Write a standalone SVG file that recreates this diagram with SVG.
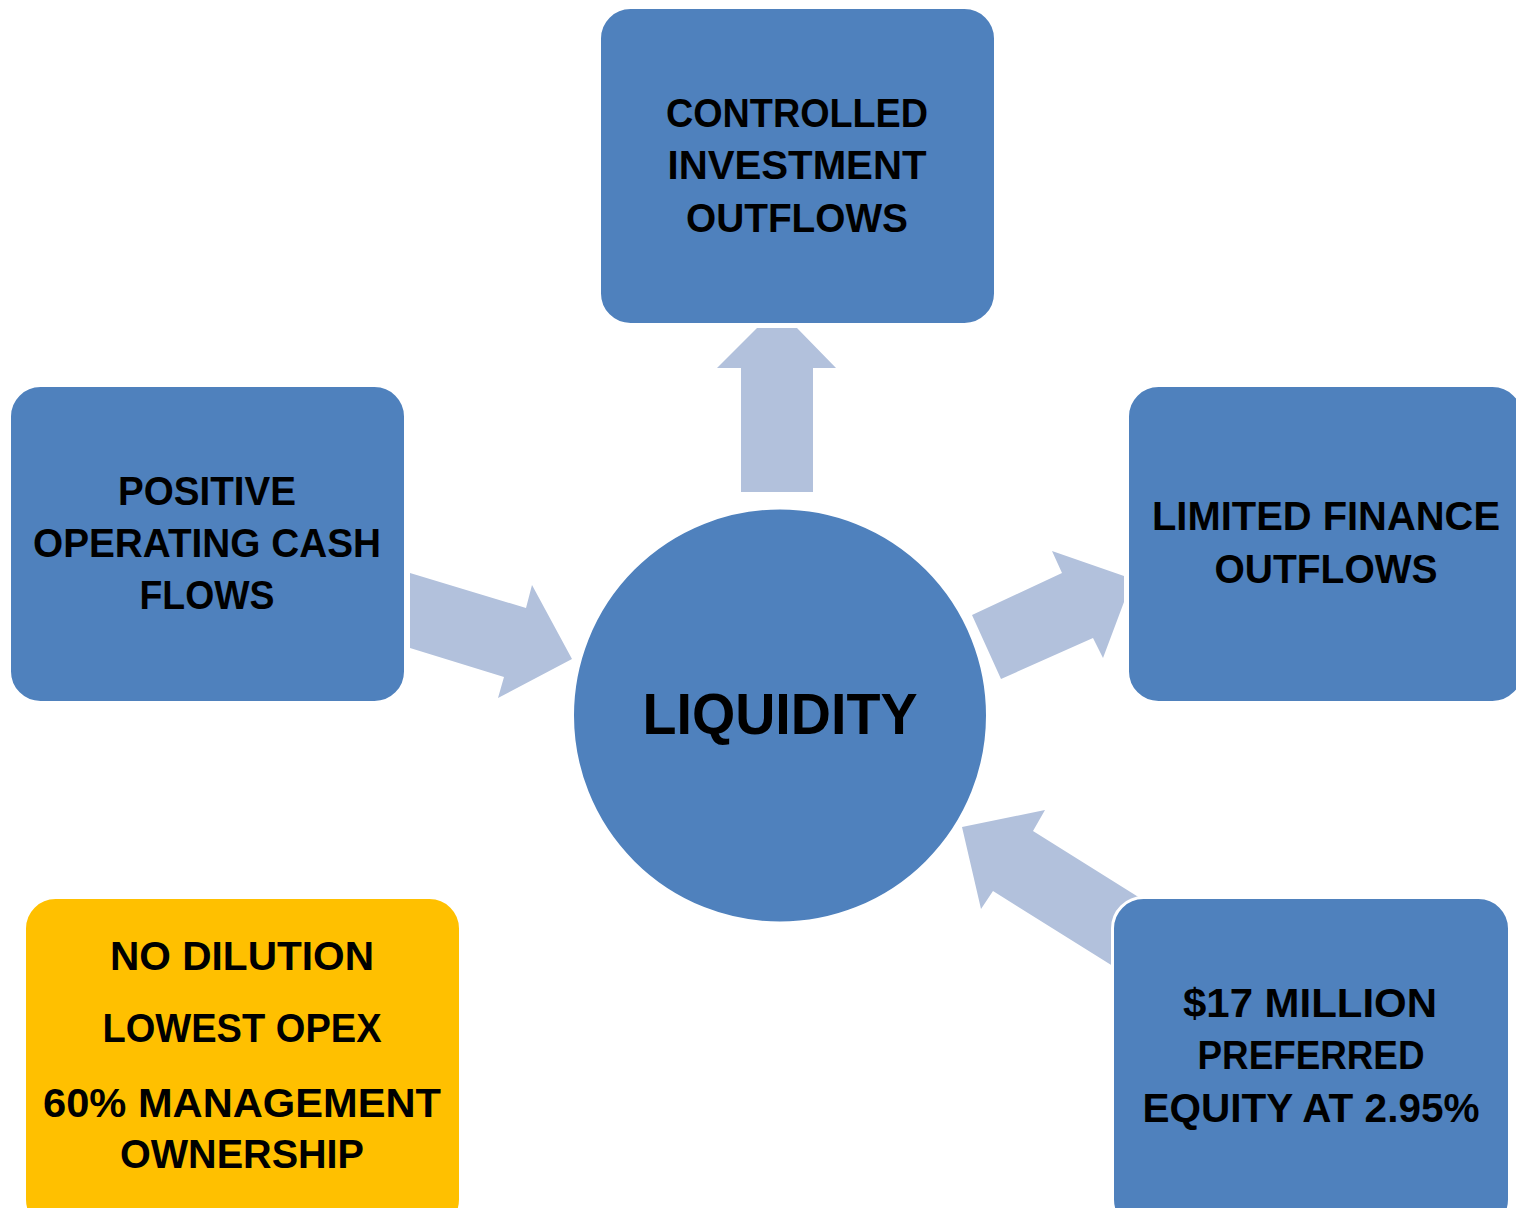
<svg xmlns="http://www.w3.org/2000/svg" width="1516" height="1208" viewBox="0 0 1516 1208">
<style>
.box{fill:#4F81BD;stroke:#FFFFFF;stroke-width:3}
.ybox{fill:#FFC000;stroke:#FFFFFF;stroke-width:3}
.arr{fill:#B2C1DC}
text{font-family:"Liberation Sans",Arial,sans-serif;font-weight:bold;font-size:40px;fill:#000000;text-anchor:middle}
.big{font-size:57px}
</style>
<rect width="1516" height="1208" fill="#FFFFFF"/>
<g id="connectors">
<polygon class="arr" points="741,492 741,368 717,368 757,328 797,328 836,368 813,368 813,492"/>
<polygon class="arr" points="410,573 526,608 532,585 572,659 498,698 504,677 410,648"/>
<polygon class="arr" points="1001,679 972,615 1062,573 1052,551 1124,576 1124,602 1103,658 1093,638"/>
<polygon class="arr" points="962,827 1045,810 1033,831 1140,898 1116,968 993,891 981,909"/>
</g>
<g id="node-top">
<rect class="box" x="599.5" y="7.5" width="396" height="317" rx="31"/>
<text x="797" y="127" textLength="262" lengthAdjust="spacingAndGlyphs">CONTROLLED</text>
<text x="797" y="179" textLength="259" lengthAdjust="spacingAndGlyphs">INVESTMENT</text>
<text x="797" y="232" textLength="222" lengthAdjust="spacingAndGlyphs">OUTFLOWS</text>
</g>
<g id="node-left">
<rect class="box" x="9.5" y="385.5" width="396" height="317" rx="31"/>
<text x="207" y="505" textLength="178" lengthAdjust="spacingAndGlyphs">POSITIVE</text>
<text x="207" y="557" textLength="348" lengthAdjust="spacingAndGlyphs">OPERATING CASH</text>
<text x="207" y="609" textLength="135" lengthAdjust="spacingAndGlyphs">FLOWS</text>
</g>
<g id="node-right">
<rect class="box" x="1127.5" y="385.5" width="396" height="317" rx="31"/>
<text x="1326" y="530" textLength="348" lengthAdjust="spacingAndGlyphs">LIMITED FINANCE</text>
<text x="1326" y="583" textLength="223" lengthAdjust="spacingAndGlyphs">OUTFLOWS</text>
</g>
<g id="node-bottom-right">
<rect class="box" x="1112.5" y="897.5" width="397" height="333" rx="31"/>
<text x="1310" y="1017" textLength="254" lengthAdjust="spacingAndGlyphs">$17 MILLION</text>
<text x="1311" y="1069" textLength="227" lengthAdjust="spacingAndGlyphs">PREFERRED</text>
<text x="1311" y="1122" textLength="337" lengthAdjust="spacingAndGlyphs">EQUITY AT 2.95%</text>
</g>
<g id="node-yellow">
<rect class="ybox" x="24.5" y="897.5" width="436" height="333" rx="31"/>
<text x="242" y="970" textLength="264" lengthAdjust="spacingAndGlyphs">NO DILUTION</text>
<text x="242" y="1042" textLength="279" lengthAdjust="spacingAndGlyphs">LOWEST OPEX</text>
<text x="242" y="1117" textLength="398" lengthAdjust="spacingAndGlyphs">60% MANAGEMENT</text>
<text x="242" y="1168" textLength="244" lengthAdjust="spacingAndGlyphs">OWNERSHIP</text>
</g>
<g id="node-center">
<circle class="box" cx="780" cy="715.5" r="207.5" stroke-width="0"/>
<text class="big" x="780" y="734" textLength="275" lengthAdjust="spacingAndGlyphs">LIQUIDITY</text>
</g>
</svg>
